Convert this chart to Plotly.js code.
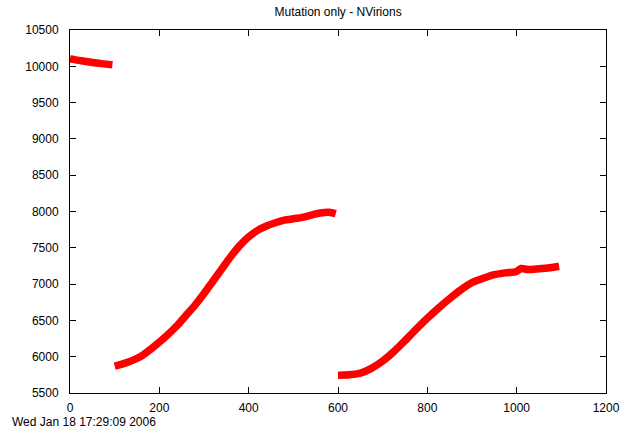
<!DOCTYPE html>
<html>
<head>
<meta charset="utf-8">
<script src="https://cdn.plot.ly/plotly-3.0.1.min.js"></script>
<style>html,body{margin:0;padding:0;background:#fff;}#chart{width:622px;height:435px;}</style>
</head>
<body>
<div id="chart"></div>
<script>
// Segment 1
var x1 = [0, 10, 20, 30, 40, 50, 60, 70, 80, 95];
var y1 = [10100, 10092, 10082, 10072, 10062, 10052, 10045, 10037, 10030, 10022];
// Segment 2
var x2 = [100, 120, 140, 160, 180, 200, 220, 240, 260, 280, 300, 320, 340, 360, 380, 400, 420, 440, 460, 480, 500, 520, 540, 560, 580, 595];
var y2 = [5870, 5905, 5950, 6010, 6100, 6200, 6310, 6430, 6570, 6710, 6870, 7040, 7210, 7380, 7530, 7650, 7740, 7800, 7845, 7880, 7900, 7920, 7950, 7980, 7990, 7970];
// Segment 3
var x3 = [600, 625, 650, 675, 700, 725, 750, 775, 800, 825, 850, 875, 900, 925, 950, 975, 1000, 1010, 1025, 1050, 1075, 1095];
var y3 = [5745, 5750, 5775, 5840, 5940, 6070, 6220, 6380, 6530, 6670, 6800, 6920, 7020, 7080, 7130, 7155, 7175, 7215, 7200, 7210, 7225, 7245];

var titleText = "Mutation only - NVirions";
var dateText = "Wed Jan 18 17:29:09 2006";

var lineStyle = {color: "#ff0000", width: 7.5, shape: "spline", smoothing: 0.8};
var traces = [
  {x: x1, y: y1, mode: "lines", line: lineStyle, showlegend: false, hoverinfo: "skip"},
  {x: x2, y: y2, mode: "lines", line: lineStyle, showlegend: false, hoverinfo: "skip"},
  {x: x3, y: y3, mode: "lines", line: lineStyle, showlegend: false, hoverinfo: "skip"}
];

var font = {family: "Liberation Sans, Arial, sans-serif", size: 12, color: "#000"};
var axisCommon = {
  showgrid: false, zeroline: false, showline: true, linecolor: "#000", linewidth: 1,
  mirror: "ticks", ticks: "inside", ticklen: 6, tickcolor: "#000", tickwidth: 1,
  tickfont: font, tickformat: "d"
};

var layout = {
  width: 622, height: 435,
  margin: {l: 70, r: 16, t: 30, b: 42, pad: 0},
  paper_bgcolor: "#fff", plot_bgcolor: "#fff",
  font: font,
  title: {text: titleText, font: font, x: 0.5435, xanchor: "center", y: 0.972, yanchor: "middle"},
  xaxis: Object.assign({}, axisCommon, {range: [0, 1200], tickvals: [0, 200, 400, 600, 800, 1000, 1200], ticklabelstandoff: 4}),
  yaxis: Object.assign({}, axisCommon, {range: [5500, 10500], tickvals: [5500, 6000, 6500, 7000, 7500, 8000, 8500, 9000, 9500, 10000, 10500], ticklabelstandoff: 8}),
  annotations: [{
    text: dateText, xref: "paper", yref: "paper", x: -0.112, y: -0.08,
    xanchor: "left", yanchor: "middle", showarrow: false, font: font
  }]
};

Plotly.newPlot("chart", traces, layout, {displayModeBar: false, staticPlot: true});
</script>
</body>
</html>
